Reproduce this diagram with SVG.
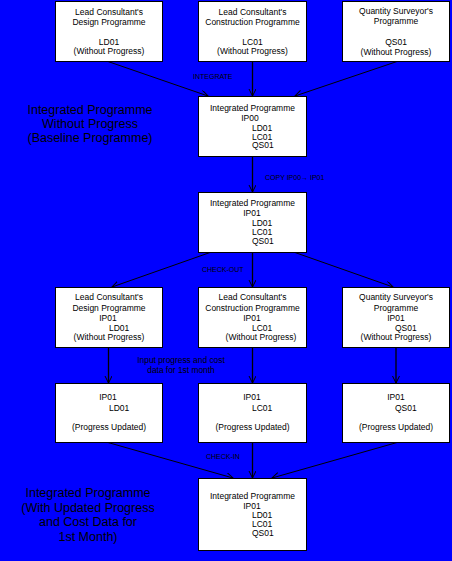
<svg xmlns="http://www.w3.org/2000/svg" width="452" height="561" viewBox="0 0 452 561">
<style>
.bx{fill:#fff;stroke:#000;stroke-width:1}
.t{font-family:"Liberation Sans",Arial,sans-serif;font-size:8.5px;fill:#000;text-anchor:middle}
.s{font-family:"Liberation Sans",Arial,sans-serif;font-size:8.5px;fill:#000;text-anchor:start}
.big{font-family:"Liberation Sans",Arial,sans-serif;font-size:12.5px;fill:#000;text-anchor:middle}
.el{font-family:"Liberation Sans",Arial,sans-serif;font-size:7px;fill:#000}
.c{stroke:#000;stroke-width:1;fill:none;marker-end:url(#ah)}
.v{stroke-width:1.3}
</style>
<defs>
<marker id="ah" markerUnits="userSpaceOnUse" markerWidth="10" markerHeight="10" refX="7" refY="3.5" orient="auto">
<path d="M0,0 L7,3.5 L0,7" fill="none" stroke="#000" stroke-width="1"/>
</marker>
</defs>
<rect x="0" y="0" width="452" height="561" fill="#0000ff"/>

<g id="connectors">
<line class="c" x1="108" y1="61.5" x2="208" y2="96"/>
<line class="c v" x1="252.5" y1="61.5" x2="252.5" y2="96"/>
<line class="c" x1="397" y1="61.5" x2="295" y2="96"/>
<line class="c v" x1="252.5" y1="156.5" x2="252.5" y2="192"/>
<line class="c" x1="210" y1="252.5" x2="112" y2="287"/>
<line class="c v" x1="252.5" y1="252.5" x2="252.5" y2="287"/>
<line class="c" x1="295" y1="252.5" x2="393" y2="287"/>
<line class="c v" x1="108.5" y1="347.5" x2="108.5" y2="383"/>
<line class="c v" x1="252.5" y1="347.5" x2="252.5" y2="383"/>
<line class="c v" x1="396" y1="347.5" x2="396" y2="383"/>
<line class="c" x1="108" y1="442.5" x2="233" y2="478"/>
<line class="c v" x1="252.5" y1="442.5" x2="252.5" y2="478"/>
<line class="c" x1="397" y1="442.5" x2="272" y2="478"/>
<text class="el" x="193" y="78.5">INTEGRATE</text>
<text class="el" x="265" y="179.5">COPY IP00→ IP01</text>
<text class="el" x="202" y="271.5">CHECK-OUT</text>
<text class="el" x="206" y="458.5">CHECK-IN</text>
<text class="t" x="181" y="363" style="font-size:8.4px">Input progress and cost</text>
<text class="t" x="181" y="373" style="font-size:8.4px">data for 1st month</text>
</g>

<g id="label-baseline">
<text class="big" x="90" y="113.5">Integrated Programme</text>
<text class="big" x="90" y="127.5">Without Progress</text>
<text class="big" x="90" y="141.5">(Baseline Programme)</text>
</g>
<g id="label-updated">
<text class="big" x="88" y="497">Integrated Programme</text>
<text class="big" x="88" y="511.5">(With Updated Progress</text>
<text class="big" x="88" y="526">and Cost Data for</text>
<text class="big" x="88" y="540.5">1st Month)</text>
</g>

<g id="ld-design">
<rect class="bx" x="55.5" y="1.5" width="107" height="60"/>
<text class="t" x="109" y="14.7">Lead Consultant's</text>
<text class="t" x="109" y="25">Design Programme</text>
<text class="t" x="109" y="44.7">LD01</text>
<text class="t" x="109" y="54.3">(Without Progress)</text>
</g>
<g id="lc-construction">
<rect class="bx" x="198.5" y="1.5" width="108" height="60"/>
<text class="t" x="252.5" y="14.7">Lead Consultant's</text>
<text class="t" x="252.5" y="25">Construction Programme</text>
<text class="t" x="252.5" y="44.7">LC01</text>
<text class="t" x="252.5" y="54.3">(Without Progress)</text>
</g>
<g id="qs-programme">
<rect class="bx" x="342.5" y="1.5" width="107" height="60"/>
<text class="t" x="396" y="13.7">Quantity Surveyor's</text>
<text class="t" x="396" y="23.7">Programme</text>
<text class="t" x="396" y="44.7">QS01</text>
<text class="t" x="396" y="54.7">(Without Progress)</text>
</g>

<g id="ip00">
<rect class="bx" x="198.5" y="96.5" width="108" height="60"/>
<text class="t" x="252.5" y="110.7">Integrated Programme</text>
<text class="t" x="250" y="120.7">IP00</text>
<text class="s" x="252" y="130.7">LD01</text>
<text class="s" x="252" y="139.7">LC01</text>
<text class="s" x="252" y="148.3">QS01</text>
</g>

<g id="ip01">
<rect class="bx" x="198.5" y="192.5" width="108" height="60"/>
<text class="t" x="252.5" y="206.3">Integrated Programme</text>
<text class="t" x="252" y="215.7">IP01</text>
<text class="s" x="252" y="225.7">LD01</text>
<text class="s" x="252" y="234.7">LC01</text>
<text class="s" x="252" y="244">QS01</text>
</g>

<g id="ld-design-ip01">
<rect class="bx" x="55.5" y="287.5" width="107" height="60"/>
<text class="t" x="109" y="300.3">Lead Consultant's</text>
<text class="t" x="109" y="311.3">Design Programme</text>
<text class="t" x="108" y="321.3">IP01</text>
<text class="s" x="109" y="330.7">LD01</text>
<text class="t" x="109" y="340">(Without Progress)</text>
</g>
<g id="lc-construction-ip01">
<rect class="bx" x="198.5" y="287.5" width="108" height="60"/>
<text class="t" x="252.5" y="300.3">Lead Consultant's</text>
<text class="t" x="252.5" y="311.3">Construction Programme</text>
<text class="t" x="252" y="321.3">IP01</text>
<text class="s" x="252" y="330.7">LC01</text>
<text class="t" x="261" y="340">(Without Progress)</text>
</g>
<g id="qs-programme-ip01">
<rect class="bx" x="342.5" y="287.5" width="107" height="60"/>
<text class="t" x="396" y="300.3">Quantity Surveyor's</text>
<text class="t" x="396" y="311.3">Programme</text>
<text class="t" x="396" y="321.3">IP01</text>
<text class="s" x="395" y="330.7">QS01</text>
<text class="t" x="396" y="340">(Without Progress)</text>
</g>

<g id="ld-updated">
<rect class="bx" x="55.5" y="383.5" width="107" height="59"/>
<text class="t" x="108" y="400.3">IP01</text>
<text class="s" x="109" y="410.7">LD01</text>
<text class="t" x="109" y="430.2">(Progress Updated)</text>
</g>
<g id="lc-updated">
<rect class="bx" x="198.5" y="383.5" width="108" height="59"/>
<text class="t" x="252" y="400.3">IP01</text>
<text class="s" x="252" y="410.7">LC01</text>
<text class="t" x="252.5" y="430.2">(Progress Updated)</text>
</g>
<g id="qs-updated">
<rect class="bx" x="342.5" y="383.5" width="107" height="59"/>
<text class="t" x="396" y="400.3">IP01</text>
<text class="s" x="395" y="410.7">QS01</text>
<text class="t" x="396" y="430.2">(Progress Updated)</text>
</g>

<g id="ip01-updated">
<rect class="bx" x="198.5" y="478.5" width="108" height="72"/>
<text class="t" x="252.5" y="498.7">Integrated Programme</text>
<text class="t" x="252" y="508.7">IP01</text>
<text class="s" x="252" y="518">LD01</text>
<text class="s" x="252" y="527">LC01</text>
<text class="s" x="252" y="536">QS01</text>
</g>
</svg>
